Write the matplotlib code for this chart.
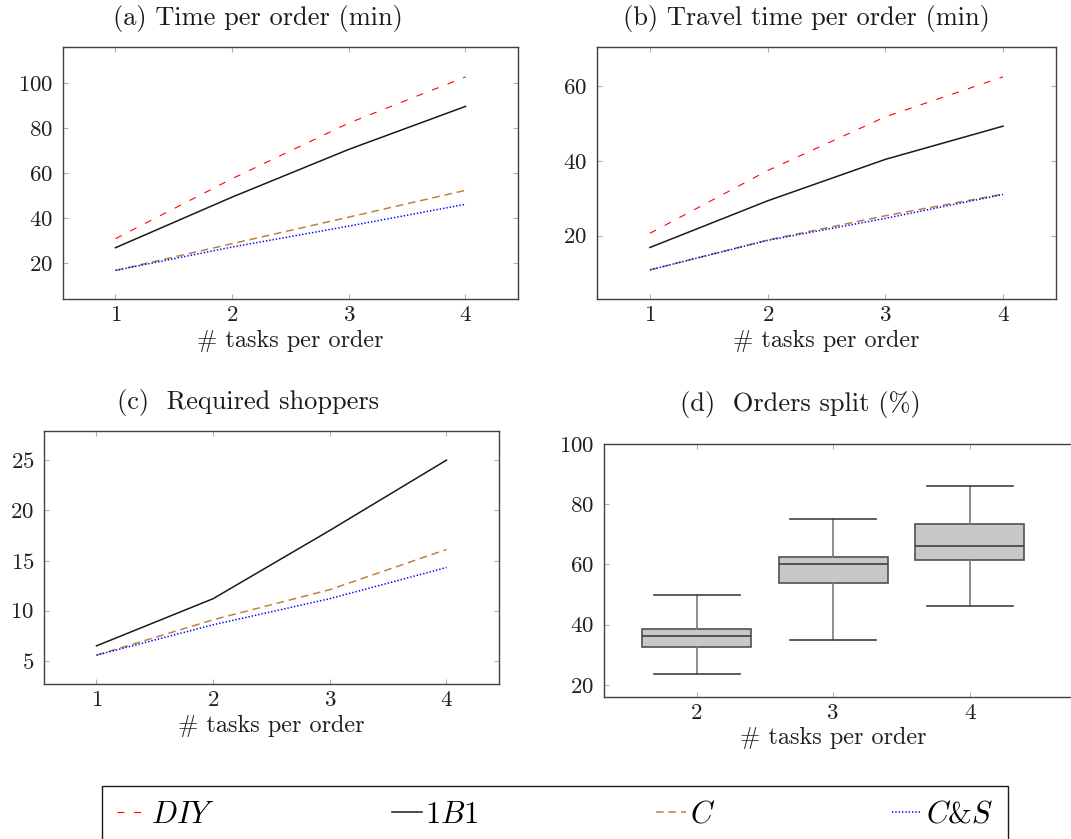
import matplotlib
matplotlib.use('Agg')
import matplotlib.pyplot as plt

plt.rcParams['font.family'] = 'cmr10'
plt.rcParams['mathtext.fontset'] = 'cm'
plt.rcParams['axes.formatter.use_mathtext'] = True
plt.rcParams['lines.scale_dashes'] = False

# data
tasks = [1, 2, 3, 4]

time_diy = [30.8, 57.5, 82.2, 102.7]
time_1b1 = [26.8, 49.3, 70.5, 89.6]
time_c = [16.7, 28.6, 40.4, 52.3]
time_cs = [16.7, 27.1, 36.4, 46.1]

travel_diy = [20.6, 37.4, 51.8, 62.5]
travel_1b1 = [16.8, 29.3, 40.4, 49.3]
travel_c = [10.8, 18.8, 25.3, 31.1]
travel_cs = [10.8, 18.7, 24.6, 31.0]

shop_1b1 = [6.5, 11.2, 18.0, 25.0]
shop_c = [5.57, 9.1, 12.1, 16.1]
shop_cs = [5.57, 8.6, 11.2, 14.3]

split_tasks = [2, 3, 4]
split_low = [23.7, 34.9, 46.1]
split_q1 = [32.5, 53.7, 61.5]
split_med = [36.2, 60.0, 66.2]
split_q3 = [38.7, 62.5, 73.6]
split_high = [49.9, 75.0, 86.2]

labels = [r'$DIY$', r'$1B1$', r'$C$', r'$C$&$S$']

W, H = 1071, 839
fig = plt.figure(figsize=(W / 100, H / 100), dpi=100)


def box(l, r, t, b):
    return [l / W, 1 - b / H, (r - l) / W, (b - t) / H]


styles = {
    'diy': dict(color='#ff0000', lw=0.8, dashes=(5, 7)),
    '1b1': dict(color='#1a1a1a', lw=1.1),
    'c': dict(color='#bf8040', lw=1.1, dashes=(5.5, 3.5)),
    'cs': dict(color='#0000ff', lw=1.1, dashes=(1, 1.4)),
}


def style_axes(ax):
    for s in ax.spines.values():
        s.set_color('#404040')
        s.set_linewidth(1.0)
    ax.tick_params(direction='in', top=True, right=True, length=3.6, width=0.8,
                   color='#b0b0b0', labelsize=16.5, labelcolor='#1f1f1f')
    ax.tick_params(axis='x', pad=5)
    ax.tick_params(axis='y', pad=7)
    ax.set_xlabel('# tasks per order', fontsize=17.5, color='#1f1f1f', labelpad=3)


ax_a = fig.add_axes(box(63, 518, 47, 299))
ax_b = fig.add_axes(box(597, 1056, 47, 299))
ax_c = fig.add_axes(box(44, 499, 431, 684))
ax_d = fig.add_axes(box(604, 1076, 444, 697))

# (a)
h1, = ax_a.plot(tasks, time_diy, **styles['diy'])
h2, = ax_a.plot(tasks, time_1b1, **styles['1b1'])
h3, = ax_a.plot(tasks, time_c, **styles['c'])
h4, = ax_a.plot(tasks, time_cs, **styles['cs'])
ax_a.set_ylim(4, 116)
ax_a.set_yticks([20, 40, 60, 80, 100])

# (b)
ax_b.plot(tasks, travel_diy, **styles['diy'])
ax_b.plot(tasks, travel_1b1, **styles['1b1'])
ax_b.plot(tasks, travel_c, **styles['c'])
ax_b.plot(tasks, travel_cs, **styles['cs'])
ax_b.set_ylim(3, 70.5)
ax_b.set_yticks([20, 40, 60])

# (c)
ax_c.plot(tasks, shop_1b1, **styles['1b1'])
ax_c.plot(tasks, shop_c, **styles['c'])
ax_c.plot(tasks, shop_cs, **styles['cs'])
ax_c.set_ylim(2.7, 27.9)
ax_c.set_yticks([5, 10, 15, 20, 25])

for ax in (ax_a, ax_b, ax_c):
    ax.set_xlim(0.55, 4.45)
    ax.set_xticks(tasks)
    style_axes(ax)

# (d) box plot
stats = []
for lo, q1, med, q3, hi in zip(split_low, split_q1, split_med, split_q3, split_high):
    stats.append({'whislo': lo, 'q1': q1, 'med': med, 'q3': q3, 'whishi': hi, 'fliers': []})
ax_d.bxp(stats, positions=split_tasks, widths=0.8, capwidths=0.63, patch_artist=True,
         showfliers=False,
         boxprops=dict(facecolor='#c8c8c8', edgecolor='#505050', linewidth=1.2),
         medianprops=dict(color='#404040', linewidth=1.2),
         whiskerprops=dict(color='#7a7a7a', linewidth=1.2),
         capprops=dict(color='#404040', linewidth=1.2))
ax_d.set_xlim(1.32, 4.78)
ax_d.set_ylim(16, 100)
ax_d.set_yticks([20, 40, 60, 80, 100])
ax_d.set_xticks(split_tasks)
ax_d.set_xticklabels([str(t) for t in split_tasks])
style_axes(ax_d)
ax_d.xaxis.set_label_coords((833 - 604) / 472, -0.12)

# titles
tkw = dict(fontsize=19, ha='center', va='center', color='#1a1a1a')
fig.text(257.5 / W, 1 - 19 / H, '(a) Time per order (min)', **tkw)
fig.text(806 / W, 1 - 19 / H, '(b) Travel time per order (min)', **tkw)
fig.text(248 / W, 1 - 403 / H, '(c)  Required shoppers', **tkw)
fig.text(800 / W, 1 - 404 / H, '(d)  Orders split (%)', **tkw)

leg = fig.legend([h1, h2, h3, h4], labels, loc='upper left',
                 bbox_to_anchor=(101.7 / W, 1 - 786 / H), ncol=4, fontsize=22,
                 frameon=True, fancybox=False, edgecolor='#1a1a1a', framealpha=1,
                 borderaxespad=0, handlelength=1.0, handletextpad=0.1,
                 columnspacing=5.8, borderpad=0.5)
leg.get_frame().set_linewidth(1.0)

fig.savefig('out.png', dpi=100)
